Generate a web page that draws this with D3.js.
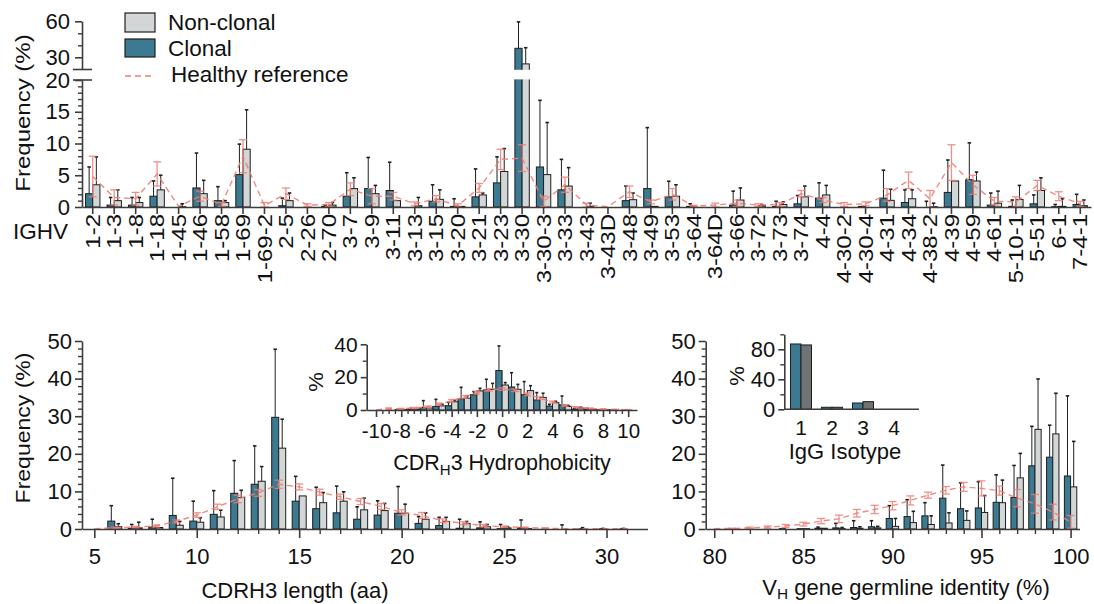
<!DOCTYPE html>
<html>
<head>
<meta charset="utf-8">
<script src="https://cdn.jsdelivr.net/npm/d3@7"></script>
<style>
  body { margin: 0; background: #fff; }
  svg text { font-family: "Liberation Sans", Arial, Helvetica, sans-serif; fill: #111; }
</style>
</head>
<body>
<svg id="chart" width="1094" height="604"></svg>
<script>
// ---------- IGHV gene usage (%), mean and SD ----------
const ighvGenes = ["1-2","1-3","1-8","1-18","1-45","1-46","1-58","1-69","1-69-2","2-5","2-26","2-70",
  "3-7","3-9","3-11","3-13","3-15","3-20","3-21","3-23","3-30","3-30-3","3-33","3-43","3-43D","3-48",
  "3-49","3-53","3-64","3-64D","3-66","3-72","3-73","3-74","4-4","4-30-2","4-30-4","4-31","4-34",
  "4-38-2","4-39","4-59","4-61","5-10-1","5-51","6-1","7-4-1"];
const ighvClonal    = [2.1,0.3,0.3,1.7,0,3.0,1.0,5.1,0,0.2,0,0.1,1.7,2.9,2.6,0,0.9,0.1,1.6,3.8,37.5,6.3,2.7,0,0,1.0,2.9,1.6,0.1,0,0.3,0,0.1,0.5,1.4,0,0.1,1.4,0.7,0,2.3,4.3,0.3,0.1,0.5,0.05,0.4];
const ighvClonalSD  = [4.2,1.2,1.2,2.4,0,5.5,2.2,4.8,0,1.2,0,0.2,3.7,4.9,4.45,0,2.6,1.2,4.4,4.1,22,10.5,4.8,0,0,2.3,9.6,2.45,0.4,0,2.2,0,0.8,1.3,2.4,0,0,4.4,2.0,0.9,5.1,5.8,1.9,1.0,1.4,0.35,1.6];
const ighvNon       = [3.5,1.0,0.7,2.7,0.05,2.1,0.7,9.1,0,1.0,0,0.3,2.9,2.1,1.0,0.2,1.2,0.1,1.9,5.6,24.5,5.1,3.3,0.1,0,1.15,0.1,1.7,0,0,1.1,0.2,0.4,1.6,1.9,0,0,1.05,1.3,0.05,4.1,4.1,0.6,1.2,2.6,0.1,0.2];
const ighvNonSD     = [4.4,1.7,0.8,2.3,0.45,2.1,0.3,6.2,0,1.2,0,0.4,1.7,1.3,0,1.3,1.5,0,0.3,3.6,13.5,8.2,2.9,0.5,0,1.05,0,1.8,0,0,1.9,0.2,0.4,1.7,1.5,0,0,1.75,1.4,0.55,0,1.4,1.9,2.2,2.0,1.2,0.9];
const ighvHealthy   = [4.8,1.5,1.3,5.2,0.1,1.7,0.4,8.0,0.2,2.1,0.3,0.4,2.8,1.7,1.7,0.5,1.3,0.2,3.0,7.5,7.7,0.9,3.5,0.3,0.05,2.4,0.8,2.0,0.15,0.3,0.6,0.3,0.4,2.1,1.1,0.4,0.5,1.9,4.2,1.3,7.0,3.5,0.9,0.8,3.4,1.7,0.5];
const ighvHealthySD = [3.2,1.2,1.0,1.9,0,0.8,0.3,2.6,0.5,0.9,0.2,0.3,1.0,1.2,0.6,0.3,0.5,0.3,0.7,1.6,2.1,0.8,1.2,0.3,0,0.9,0.3,0.9,0.1,0.3,0.5,0.2,0.3,0.5,0.4,0.3,0.3,1.0,1.3,1.3,2.8,1.5,0.6,0.8,0.8,0.7,0.4];

// ---------- CDRH3 length (aa) ----------
const cdrLength      = [5,6,7,8,9,10,11,12,13,14,15,16,17,18,19,20,21,22,23,24,25,26,27,28,29,30,31];
const cdrClonal      = [0,2.1,0.2,0.5,3.6,2.1,3.9,9.5,11.9,29.7,7.4,5.4,4.3,2.6,3.7,4.2,1.5,0.9,0.2,0.3,0.1,0.3,0,0,0.05,0.05,0.05];
const cdrClonalSD    = [0,4.1,1.0,2.1,9.9,5.3,6.3,8.7,10.2,18.1,6.6,5.7,7.1,3.3,3.8,7.1,1.8,2.2,2.4,1.6,1.1,2.1,0,1.1,0.3,0.1,0.1];
const cdrNon         = [0,0.6,0.3,0.4,1.0,1.8,3.2,8.4,12.7,21.5,8.8,7.0,7.4,5.1,4.9,4.2,2.6,2.0,1.5,0.6,0.3,0.1,0,0,0,0,0];
const cdrNonSD       = [0,0.8,1.5,0,1.0,1.2,1.8,1.9,3.9,7.7,0,2.7,2.5,3.1,1.9,2.4,1.7,1.1,0.5,0.6,0.3,0,0,0,0,0,0];
const cdrHealthy     = [0.1,0.3,0.5,0.8,2.0,3.7,5.9,8.0,9.6,11.9,11.2,9.8,8.6,7.3,6.0,4.4,3.6,2.2,1.5,0.9,0.6,0.4,0.2,0.1,0.1,0.05,0.05];
const cdrHealthySD   = [0,0.2,0.2,0.3,0.4,0.6,0.7,1.0,0.9,1.1,0.8,0.8,0.7,0.8,0.8,0.7,0.8,0.5,0.4,0.3,0.2,0.1,0.1,0,0,0,0];

// ---------- CDRH3 hydrophobicity ----------
const hydroScore     = [-10,-9,-8,-7,-6,-5,-4,-3,-2,-1,0,1,2,3,4,5,6,7,8,9,10];
const hydroClonal    = [0,0,0.2,0.4,1.5,2.2,2.6,6.9,9.3,12.2,24.0,14.0,9.3,6.1,2.4,3.2,0.5,0.4,0.1,0.1,0.05];
const hydroClonalSD  = [0,0,0,0.6,4.2,4.3,2.0,6.9,1.9,6.5,15.0,8.7,8.0,4.5,1.1,5.3,0.5,0.6,0,0,0];
const hydroNon       = [0,0,0.3,0.6,1.2,2.5,5.0,7.2,11.6,12.6,15.2,12.6,11.8,7.7,4.5,2.2,1.2,0.4,0.1,0,0];
const hydroNonSD     = [0,0,0,0,0,1.0,1.0,1.5,1.6,3.6,1.5,3.0,3.0,2.5,0.8,0.5,0.5,0,0,0,0];
const hydroHealthy   = [0.1,0.8,0.7,1.2,1.9,3.6,5.6,8.0,10.5,12.3,12.8,12.0,9.5,7.2,4.8,2.8,1.6,0.9,0.5,0.3,0.2];
const hydroHealthySD = [0,0.5,0.3,0.4,0.5,0.6,0.8,0.8,0.8,0.8,0.8,0.8,0.8,0.8,0.6,0.5,0.4,0.3,0.2,0.1,0.1];

// ---------- VH germline identity (%) ----------
const vhIdentity     = [80,81,82,83,84,85,86,87,88,89,90,91,92,93,94,95,96,97,98,99,100];
const vhClonal       = [0,0,0,0,0.1,0.1,0.2,0.3,0.4,0.6,2.8,3.3,3.5,8.2,5.4,5.6,7.1,8.4,16.8,19.1,14.1];
const vhClonalSD     = [0,0,0,0,0,0,0.3,1.2,1.8,1.6,3.4,4.5,3.5,8.8,6.9,7.0,7.3,8.5,10.5,8.5,21.3];
const vhNon          = [0,0,0,0,0,0.1,0.2,0.1,0.2,0.3,0.7,1.7,1.2,1.6,2.3,4.4,7.0,13.6,26.5,25.3,11.2];
const vhNonSD        = [0,0,0,0,0,0,0,0.3,0.4,0.4,2.1,3.0,2.3,2.7,2.5,4.5,6.0,6.5,13.4,10.8,12.1];
const vhHealthy      = [0.1,0.15,0.3,0.5,0.8,1.3,2.1,2.7,4.2,5.2,6.2,7.6,9.0,10.3,11.2,10.8,10.2,8.2,6.7,4.5,1.9];
const vhHealthySD    = [0,0.05,0.2,0.3,0.4,0.5,0.7,1.0,1.0,1.1,1.1,1.2,0.8,1.0,1.2,2.0,1.2,2.3,2.5,2.1,1.7];

// ---------- IgG isotype (%) ----------
const isotypes       = [1,2,3,4];
const isoClonal      = [87.1,2.7,8.4,0];
const isoNon         = [85.8,2.7,10.2,0];

// ---------- styling ----------
const TEAL = "#3b7a91", LIGHT = "#d3d6d6", DARK = "#6f7375", RED = "#ef7d74", INK = "#1e1e1e", AXIS = "#3c3c3c";
const svg = d3.select("#chart");

function styleAxis(a, fs) {
  a.attr("font-family", null).attr("font-size", null);
  a.select(".domain").attr("stroke", AXIS).attr("stroke-width", 1.6);
  a.selectAll(".tick line").attr("stroke", AXIS).attr("stroke-width", 1.6);
  a.selectAll(".tick text").style("font-size", fs + "px").attr("fill", "#111");
  return a;
}
function addAxis(parent, gen, tr, fs) {
  return styleAxis(parent.append("g").attr("transform", tr).call(gen), fs);
}
function addMinor(parent, gen, tr) {
  const a = parent.append("g").attr("transform", tr).call(gen.tickFormat(""));
  a.select(".domain").remove();
  a.selectAll(".tick line").attr("stroke", AXIS).attr("stroke-width", 1.4);
}

// rows of {cx, c, cs, n, ns, h, hs}
function rows(xs, c, cs, n, ns, h, hs) {
  return xs.map((x, i) => ({ cx: x, c: c[i], cs: cs ? cs[i] : 0, n: n[i], ns: ns ? ns[i] : 0,
    h: h ? h[i] : null, hs: hs ? hs[i] : 0 }));
}

function drawBars(g, data, y, bw, fillC, fillN) {
  const base = y(0);
  [["c", -1, fillC], ["n", 0, fillN]].forEach(([k, off, fill]) => {
    g.append("g").selectAll("rect").data(data.filter(d => d[k] > 0)).join("rect")
      .attr("x", d => d.cx + off * bw).attr("y", d => y(d[k]))
      .attr("width", bw).attr("height", d => base - y(d[k]))
      .attr("fill", fill).attr("stroke", INK).attr("stroke-width", 1);
  });
}

function drawErrors(g, data, y, bw, cap) {
  [["c", "cs", -1], ["n", "ns", 0]].forEach(([k, s, off]) => {
    const sel = data.filter(d => d[s] > 0);
    const xm = d => d.cx + off * bw + bw / 2;
    const eg = g.append("g").attr("stroke", INK).attr("stroke-width", 1);
    eg.selectAll("line.v").data(sel).join("line").attr("class", "v")
      .attr("x1", xm).attr("x2", xm).attr("y1", d => y(d[k])).attr("y2", d => y(d[k] + d[s]));
    eg.selectAll("line.cap").data(sel).join("line").attr("class", "cap")
      .attr("x1", d => xm(d) - cap / 2).attr("x2", d => xm(d) + cap / 2)
      .attr("y1", d => y(d[k] + d[s])).attr("y2", d => y(d[k] + d[s]))
      .attr("stroke-width", 1.6);
  });
}

function drawHealthy(g, data, y, cap) {
  const hg = g.append("g");
  hg.append("path").datum(data)
    .attr("d", d3.line().x(d => d.cx).y(d => y(d.h)))
    .attr("fill", "none").attr("stroke", RED).attr("stroke-width", 1.4)
    .attr("stroke-dasharray", "6,4").attr("opacity", 0.9);
  const eb = hg.append("g").attr("stroke", RED).attr("stroke-width", 1.3).attr("opacity", 0.85);
  const sel = data.filter(d => d.hs > 0);
  eb.selectAll("line.v").data(sel).join("line").attr("class", "v")
    .attr("x1", d => d.cx).attr("x2", d => d.cx)
    .attr("y1", d => y(Math.max(0, d.h - d.hs))).attr("y2", d => y(d.h + d.hs));
  [-1, 1].forEach(sg => {
    eb.selectAll("line.c" + (sg > 0 ? "p" : "m")).data(sel).join("line").attr("class", "c" + (sg > 0 ? "p" : "m"))
      .attr("x1", d => d.cx - cap / 2).attr("x2", d => d.cx + cap / 2)
      .attr("y1", d => y(Math.max(0, d.h + sg * d.hs))).attr("y2", d => y(Math.max(0, d.h + sg * d.hs)));
  });
}

// text with a subscript part, e.g. CDR<sub>H</sub>3
function subText(sel, parts, shift) {
  parts.forEach(([t, sub], i) => {
    const ts = sel.append("tspan").text(t);
    if (sub) ts.style("font-size", "0.7em").attr("dy", shift);
    else if (i > 0) ts.attr("dy", -shift);
  });
}

// rotated, slightly condensed axis title
function vTitle(g, x, y, size, text) {
  g.append("text").attr("transform", `translate(${x},${y}) scale(0.88,1) rotate(-90)`)
    .attr("text-anchor", "middle").style("font-size", size + "px").text(text);
}

// ================= top panel: IGHV =================
{
  const g = svg.append("g");
  const x = d3.scaleBand().domain(ighvGenes).range([82, 1091]);
  const yLow = d3.scaleLinear().domain([0, 20]).range([207, 80]);
  const yHigh = d3.scaleLinear().domain([20, 60]).range([69.3, 21.3]);
  const y = v => (v <= 20 ? yLow(v) : yHigh(v));
  const cx = ighvGenes.map(k => x(k) + x.bandwidth() / 2);
  const data = rows(cx, ighvClonal, ighvClonalSD, ighvNon, ighvNonSD, ighvHealthy, ighvHealthySD);

  drawBars(g, data, y, 7.2, TEAL, LIGHT);
  // axis break gap
  g.append("rect").attr("x", 84).attr("y", 69.8).attr("width", 1010).attr("height", 9.6).attr("fill", "#fff");
  drawErrors(g, data, y, 7.2, 3.5);
  drawHealthy(g, data, y, 8);

  // y axis (two segments)
  addMinor(g, d3.axisLeft(yLow).tickValues(d3.range(1, 20).filter(v => v % 5)).tickSize(4), "translate(82,0)");
  addMinor(g, d3.axisLeft(yHigh).tickValues([40, 50]).tickSize(4), "translate(82,0)");
  addAxis(g, d3.axisLeft(yLow).tickValues([0, 5, 10, 15, 20]).tickSize(7).tickSizeOuter(0).tickPadding(5), "translate(82,0)", 22);
  addAxis(g, d3.axisLeft(yHigh).tickValues([30, 60]).tickSize(7).tickSizeOuter(0).tickPadding(5), "translate(82,0)", 22);
  g.append("g").attr("stroke", AXIS).attr("stroke-width", 1.6).selectAll("line").data([69.5, 80]).join("line")
    .attr("x1", 73).attr("x2", 92).attr("y1", d => d).attr("y2", d => d);

  // x axis with rotated gene labels
  addAxis(g, d3.axisBottom(x).tickSize(7).tickSizeOuter(0).tickFormat(""), "translate(0,207)", 20);
  g.append("g").selectAll("text").data(ighvGenes).join("text")
    .attr("transform", d => `translate(${x(d) + x.bandwidth() / 2},214) scale(0.82,1) rotate(-90)`)
    .attr("text-anchor", "end").attr("dy", "0.36em").style("font-size", "24px").text(d => d);
  g.append("text").attr("x", 13).attr("y", 239).style("font-size", "22.5px").text("IGHV");
  vTitle(g, 30, 113, 24, "Frequency (%)");

  // legend
  const lg = g.append("g");
  lg.append("rect").attr("x", 125).attr("y", 13).attr("width", 30).attr("height", 19)
    .attr("fill", LIGHT).attr("stroke", INK).attr("stroke-width", 1.2);
  lg.append("rect").attr("x", 125).attr("y", 39).attr("width", 30).attr("height", 18)
    .attr("fill", TEAL).attr("stroke", INK).attr("stroke-width", 1.2);
  lg.append("line").attr("x1", 125).attr("x2", 153).attr("y1", 76).attr("y2", 76)
    .attr("stroke", RED).attr("stroke-width", 1.4).attr("stroke-dasharray", "6,4");
  lg.append("text").attr("x", 168).attr("y", 30).style("font-size", "22.5px").text("Non-clonal");
  lg.append("text").attr("x", 168).attr("y", 56).style("font-size", "22.5px").text("Clonal");
  lg.append("text").attr("x", 171).attr("y", 82).style("font-size", "22.5px").text("Healthy reference");
}

// ================= bottom left: CDRH3 length =================
{
  const g = svg.append("g");
  const x = d3.scaleLinear().domain([4.4, 32]).range([82, 647.5]);
  const y = d3.scaleLinear().domain([0, 50]).range([529, 341]);
  const data = rows(cdrLength.map(x), cdrClonal, cdrClonalSD, cdrNon, cdrNonSD, cdrHealthy, cdrHealthySD);
  drawBars(g, data, y, 7, TEAL, LIGHT);
  drawErrors(g, data, y, 7, 3.5);
  drawHealthy(g, data, y, 8);

  addMinor(g, d3.axisLeft(y).tickValues(d3.range(2, 50, 2).filter(v => v % 10)).tickSize(4), "translate(82,0)");
  addAxis(g, d3.axisLeft(y).tickValues([0, 10, 20, 30, 40, 50]).tickSize(7).tickSizeOuter(0).tickPadding(3), "translate(82,0)", 22);
  addMinor(g, d3.axisBottom(x).tickValues(d3.range(5, 32).filter(v => v % 5)).tickSize(5), "translate(0,529)");
  addAxis(g, d3.axisBottom(x).tickValues([5, 10, 15, 20, 25, 30]).tickSize(9).tickSizeOuter(0).tickPadding(10), "translate(0,529)", 22);

  vTitle(g, 30, 428, 23, "Frequency (%)");
  g.append("text").attr("x", 295).attr("y", 598).attr("text-anchor", "middle").style("font-size", "22px")
    .text("CDRH3 length (aa)");
}

// ================= inset: CDRH3 hydrophobicity =================
{
  const g = svg.append("g");
  const x = d3.scaleLinear().domain([-10.74, 10.7]).range([366.7, 637]);
  const y = d3.scaleLinear().domain([0, 40]).range([410, 344.3]);
  const data = rows(hydroScore.map(x), hydroClonal, hydroClonalSD, hydroNon, hydroNonSD, hydroHealthy, hydroHealthySD);
  drawBars(g, data, y, 6.3, TEAL, LIGHT);
  drawErrors(g, data, y, 6.3, 3);
  drawHealthy(g, data, y, 7);

  addMinor(g, d3.axisLeft(y).tickValues([10, 30]).tickSize(4), "translate(366.7,0)");
  addAxis(g, d3.axisLeft(y).tickValues([0, 20, 40]).tickSize(6).tickSizeOuter(0).tickPadding(3), "translate(366.7,0)", 21);
  addMinor(g, d3.axisBottom(x).tickValues(d3.range(-10, 10.5, 0.5).filter(v => v % 2 !== 0)).tickSize(4), "translate(0,410)");
  addAxis(g, d3.axisBottom(x).tickValues(d3.range(-10, 11, 2)).tickFormat(d => String(d))
    .tickSize(7).tickSizeOuter(0).tickPadding(6), "translate(0,410)", 20.5);

  vTitle(g, 323, 382, 22, "%");
  const t = g.append("text").attr("x", 502).attr("y", 470).attr("text-anchor", "middle").style("font-size", "21.5px");
  subText(t, [["CDR"], ["H", true], ["3 Hydrophobicity"]], 5);
}

// ================= bottom right: VH germline identity =================
{
  const g = svg.append("g");
  const x = d3.scaleLinear().domain([79.52, 100.5]).range([705.7, 1079.5]);
  const y = d3.scaleLinear().domain([0, 50]).range([529, 341]);
  const data = rows(vhIdentity.map(x), vhClonal, vhClonalSD, vhNon, vhNonSD, vhHealthy, vhHealthySD);
  drawBars(g, data, y, 6.2, TEAL, LIGHT);
  drawErrors(g, data, y, 6.2, 3.5);
  drawHealthy(g, data, y, 8);

  addMinor(g, d3.axisLeft(y).tickValues(d3.range(2, 50, 2).filter(v => v % 10)).tickSize(4), "translate(705.7,0)");
  addAxis(g, d3.axisLeft(y).tickValues([0, 10, 20, 30, 40, 50]).tickSize(7).tickSizeOuter(0).tickPadding(3), "translate(705.7,0)", 22);
  addMinor(g, d3.axisBottom(x).tickValues(d3.range(80, 101).filter(v => v % 5)).tickSize(5), "translate(0,529)");
  addAxis(g, d3.axisBottom(x).tickValues([80, 85, 90, 95, 100]).tickSize(9).tickSizeOuter(0).tickPadding(10), "translate(0,529)", 22);

  const t = g.append("text").attr("x", 906).attr("y", 595).attr("text-anchor", "middle").style("font-size", "22px");
  subText(t, [["V"], ["H", true], [" gene germline identity (%)"]], 4);
}

// ================= inset: IgG isotype =================
{
  const g = svg.append("g");
  const x = d3.scaleLinear().domain([1, 4]).range([801, 894]);
  const y = d3.scaleLinear().domain([0, 100]).range([409.3, 334.3]);
  const data = rows(isotypes.map(x), isoClonal, null, isoNon, null, null, null);
  drawBars(g, data, y, 10.5, TEAL, DARK);

  addMinor(g, d3.axisLeft(y).tickValues([20, 60, 100]).tickSize(4), "translate(784.3,0)");
  addAxis(g, d3.axisLeft(y).tickValues([0, 40, 80]).tickSize(6).tickSizeOuter(0).tickPadding(3), "translate(784.3,0)", 22);
  const xa = g.append("g").attr("transform", "translate(0,409.3)");
  xa.append("line").attr("x1", 784.3).attr("x2", 919).attr("stroke", AXIS).attr("stroke-width", 1.6);
  xa.selectAll("text").data(isotypes).join("text").attr("x", d => x(d)).attr("y", 25.5)
    .attr("text-anchor", "middle").style("font-size", "21px").text(d => d);

  vTitle(g, 744, 376, 22, "%");
  g.append("text").attr("x", 845).attr("y", 459).attr("text-anchor", "middle").style("font-size", "22px")
    .text("IgG Isotype");
}
</script>
</body>
</html>
